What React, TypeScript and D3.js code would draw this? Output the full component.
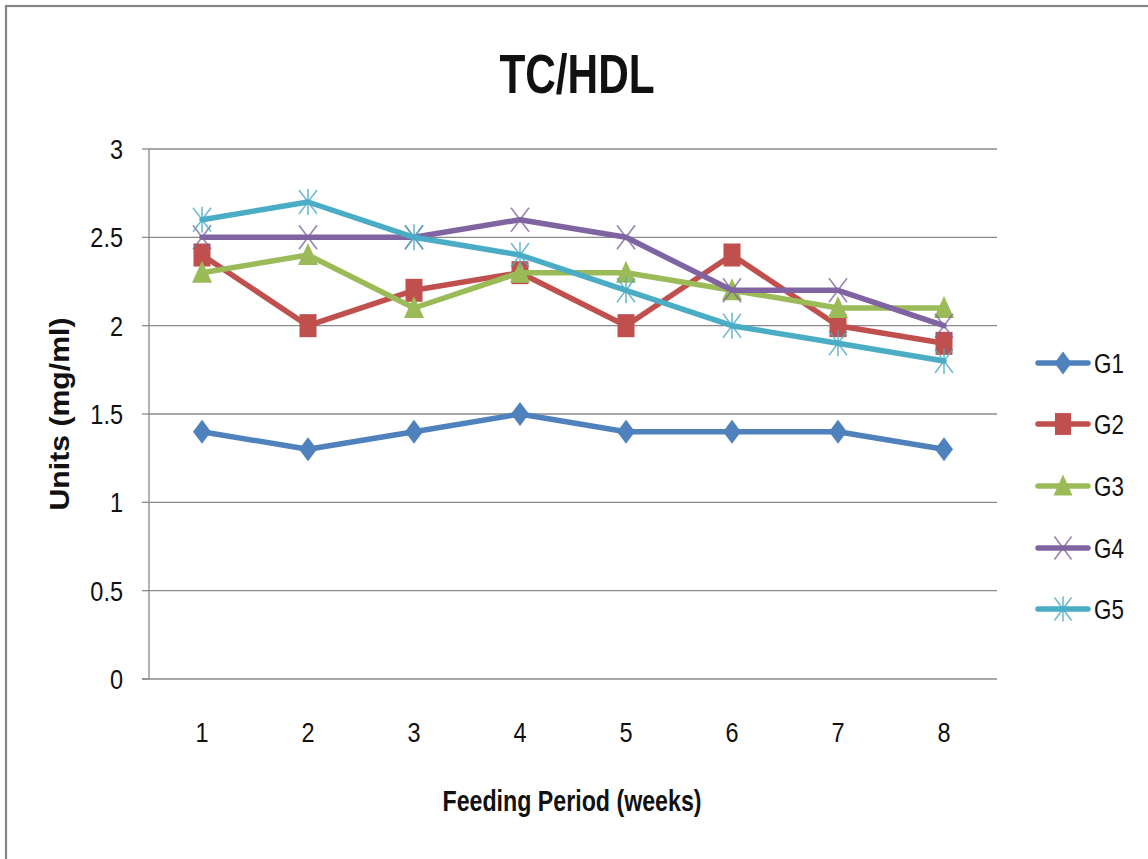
import React from "react";
import * as d3 from "d3";

const weeks = [1, 2, 3, 4, 5, 6, 7, 8];
const seriesNames = ["G1", "G2", "G3", "G4", "G5"];
const g1 = [1.4, 1.3, 1.4, 1.5, 1.4, 1.4, 1.4, 1.3];
const g2 = [2.4, 2.0, 2.2, 2.3, 2.0, 2.4, 2.0, 1.9];
const g3 = [2.3, 2.4, 2.1, 2.3, 2.3, 2.2, 2.1, 2.1];
const g4 = [2.5, 2.5, 2.5, 2.6, 2.5, 2.2, 2.2, 2.0];
const g5 = [2.6, 2.7, 2.5, 2.4, 2.2, 2.0, 1.9, 1.8];
const yTicks = [0, 0.5, 1, 1.5, 2, 2.5, 3];
const colors = ["#4F81BD", "#C0504D", "#9BBB59", "#8064A2", "#4BACC6"];
const markerTypes = ["diamond", "square", "triangle", "x", "asterisk"];

const W = 1148;
const H = 859;
const plot = { left: 149, right: 997, top: 149, bottom: 679 };
const FONT = "'Liberation Sans', Arial, sans-serif";

function NText({
  x,
  y,
  sx = 0.82,
  rotate = 0,
  anchor = "start",
  size,
  bold = false,
  children,
}: {
  x: number;
  y: number;
  sx?: number;
  rotate?: number;
  anchor?: string;
  size: number;
  bold?: boolean;
  children: React.ReactNode;
}) {
  return (
    <text
      transform={`translate(${x},${y}) rotate(${rotate}) scale(${sx},1)`}
      dy="0.36em"
      textAnchor={anchor}
      fontSize={size}
      fontWeight={bold ? "bold" : "normal"}
      fill="#111"
    >
      {children}
    </text>
  );
}

function Marker({ type, x, y, color, s = 1 }: { type: string; x: number; y: number; color: string; s?: number }) {
  const w = 9 * s;
  const h = 12 * s;
  if (type === "diamond") {
    return <path d={`M${x},${y - h}L${x + w},${y}L${x},${y + h}L${x - w},${y}Z`} fill={color} />;
  }
  if (type === "square") {
    return <rect x={x - 8.5 * s} y={y - 11.5 * s} width={17 * s} height={23 * s} fill={color} />;
  }
  if (type === "triangle") {
    return <path d={`M${x},${y - 12 * s}L${x + 10 * s},${y + 10 * s}L${x - 10 * s},${y + 10 * s}Z`} fill={color} />;
  }
  return (
    <g stroke={color} strokeWidth={1.6} opacity={0.8}>
      <line x1={x - w} y1={y - h} x2={x + w} y2={y + h} />
      <line x1={x - w} y1={y + h} x2={x + w} y2={y - h} />
      {type === "asterisk" && <line x1={x} y1={y - h - 1} x2={x} y2={y + h + 1} />}
    </g>
  );
}

export default function App() {
  const data = [g1, g2, g3, g4, g5];
  const x = d3.scaleBand<number>().domain(weeks).range([plot.left, plot.right]);
  const cx = (d: number) => (x(d) as number) + x.bandwidth() / 2;
  const y = d3.scaleLinear().domain([0, 3]).range([plot.bottom, plot.top]);
  const line = d3
    .line<number>()
    .x((_, i) => cx(weeks[i]))
    .y((v) => y(v));

  const legendY = [363, 424, 486, 548, 609];

  return (
    <div style={{ position: "absolute", left: 0, top: 0, width: W, height: H, background: "#fff" }}>
      <svg width={W} height={H} style={{ display: "block" }} fontFamily={FONT}>
        <rect x={0} y={0} width={W} height={H} fill="#fff" />
        <rect x={6} y={6} width={W + 20} height={H + 20} fill="none" stroke="#868686" strokeWidth={2.2} />
        <NText x={577} y={73} anchor="middle" size={55} bold sx={0.77}>
          TC/HDL
        </NText>
        {yTicks.map((t) => (
          <g key={t}>
            {t !== 0 && (
              <line x1={plot.left} x2={plot.right} y1={y(t)} y2={y(t)} stroke="#8a8a8a" strokeWidth={1.3} />
            )}
            <line x1={plot.left - 7} x2={plot.left} y1={y(t)} y2={y(t)} stroke="#8a8a8a" strokeWidth={1.3} />
            <NText x={123} y={y(t)} anchor="end" size={28} sx={0.84}>
              {String(t)}
            </NText>
          </g>
        ))}
        <line x1={plot.left} x2={plot.left} y1={plot.top} y2={plot.bottom} stroke="#8a8a8a" strokeWidth={1.3} />
        <line x1={plot.left - 7} x2={plot.right} y1={plot.bottom} y2={plot.bottom} stroke="#8a8a8a" strokeWidth={1.3} />
        {weeks.map((w) => (
          <NText key={w} x={cx(w)} y={732} anchor="middle" size={28} sx={0.84}>
            {w}
          </NText>
        ))}
        <NText x={572} y={801} anchor="middle" size={29} bold sx={0.8}>
          Feeding Period (weeks)
        </NText>
        <NText x={59} y={414} anchor="middle" size={28} bold rotate={-90} sx={1.08}>
          Units (mg/ml)
        </NText>
        {data.map((vals, si) => (
          <g key={si}>
            <path
              d={line(vals) as string}
              fill="none"
              stroke={colors[si]}
              strokeWidth={5.5}
              strokeLinejoin="round"
              strokeLinecap="round"
            />
            {vals.map((v, i) => (
              <Marker key={i} type={markerTypes[si]} x={cx(weeks[i])} y={y(v)} color={colors[si]} />
            ))}
          </g>
        ))}
        {seriesNames.map((n, si) => (
          <g key={n}>
            <line
              x1={1038}
              x2={1088}
              y1={legendY[si]}
              y2={legendY[si]}
              stroke={colors[si]}
              strokeWidth={5.5}
              strokeLinecap="round"
            />
            <Marker type={markerTypes[si]} x={1063} y={legendY[si]} color={colors[si]} s={0.95} />
            <NText x={1094} y={legendY[si]} size={28} sx={0.8}>
              {n}
            </NText>
          </g>
        ))}
      </svg>
    </div>
  );
}
